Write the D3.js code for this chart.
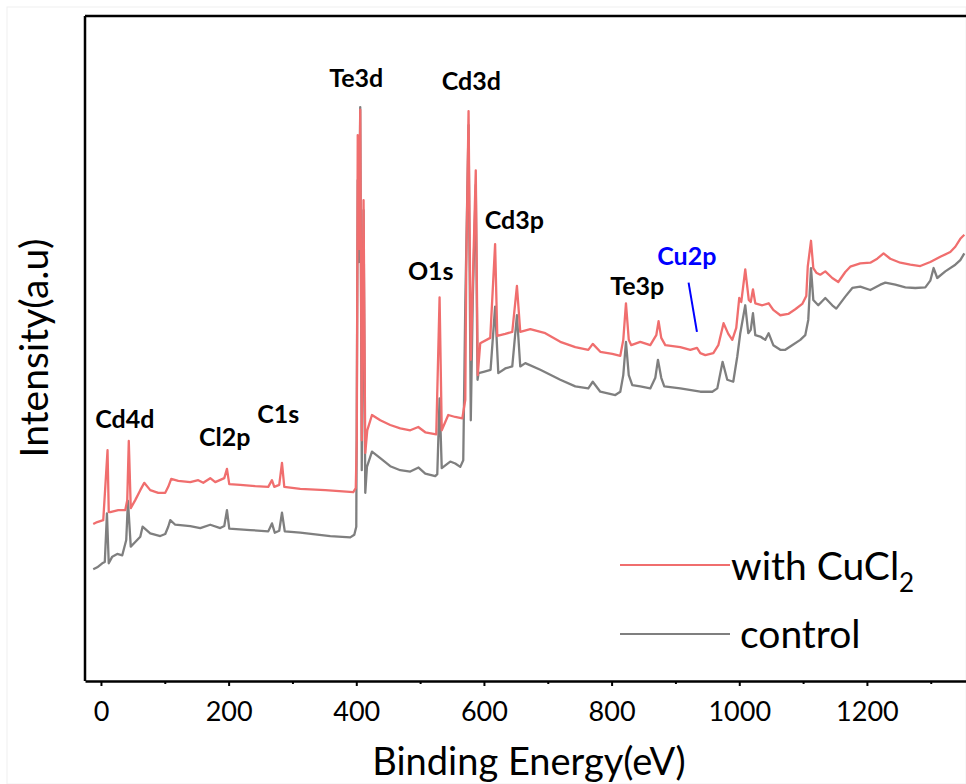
<!DOCTYPE html>
<html>
<head>
<meta charset="utf-8">
<script src="https://cdn.jsdelivr.net/npm/d3@7/dist/d3.min.js"></script>
<style>
  html, body { margin: 0; padding: 0; background: #fff; }
  svg { display: block; }
</style>
</head>
<body>
<svg id="chart" width="966" height="784"></svg>
<script>
// XPS survey spectra: binding energy (eV) and intensity (a.u.)
const withCuCl2BE = [-12.1,-5.8,3.6,10.3,12.2,14.6,27.1,38.1,41.2,43.6,46.7,53.7,61.6,67.8,77.2,89.8,100.7,105.4,110.1,121.1,139.9,152.4,160.3,171.2,179.1,193.2,197.4,201.0,218.2,241.7,262.1,267.9,271.5,279.3,283.6,287.2,312.2,351.4,395.3,399.2,400.8,402.3,404.2,406.2,408.6,411.4,414.1,417.2,424.6,437.6,453.2,468.9,484.6,497.1,508.1,525.3,530.5,533.9,544.1,555.1,566.1,570.8,572.3,575.9,579.4,587.2,590.3,594.2,609.9,617.5,620.9,633.4,644.4,651.7,656.9,672.6,696.1,719.6,743.1,763.5,770.5,782.3,801.1,813.6,818.3,822.5,826.9,830.8,844.9,860.6,870.0,873.6,877.8,884.1,907.6,923.3,933.8,939.0,946.8,959.4,967.2,975.4,982.8,989.1,995.3,1000.0,1003.2,1009.4,1014.9,1018.0,1021.5,1025.1,1036.1,1046.0,1053.3,1064.3,1076.8,1087.8,1098.7,1105.0,1107.3,1112.4,1116.0,1120.7,1126.9,1134.8,1145.7,1155.1,1166.1,1173.9,1189.6,1205.3,1216.2,1226.1,1236.6,1252.3,1268.0,1283.6,1299.3,1315.0,1330.6,1338.5,1346.3,1352.6];
const withCuCl2I = [23.6,23.9,24.2,34.7,25.4,25.4,25.7,25.7,27.2,36.1,26.0,27.2,28.7,29.8,28.7,28.3,28.3,29.2,30.4,30.1,29.9,30.2,29.8,30.5,29.9,30.5,31.9,29.6,29.5,29.3,29.2,30.2,29.2,29.5,32.8,29.2,28.9,28.7,28.4,29.0,36.2,82.1,65.0,85.9,36.2,72.3,34.3,37.7,40.0,39.2,38.5,38.0,37.7,38.2,37.4,37.1,57.7,37.7,40.0,39.7,39.5,42.3,62.3,85.7,48.3,76.8,46.0,50.8,51.6,65.7,51.9,52.2,52.5,59.4,52.5,52.9,52.3,51.0,50.2,49.8,50.7,49.5,49.2,48.9,51.3,56.8,51.3,50.5,51.0,50.5,52.0,54.1,51.6,50.5,50.2,49.8,50.1,49.3,49.0,49.3,50.5,53.8,52.2,51.3,53.1,57.6,57.0,61.9,57.3,57.0,58.9,56.8,56.5,56.8,55.8,55.0,55.2,55.9,56.7,57.9,62.3,66.2,62.1,61.4,61.1,61.6,60.6,60.0,61.5,62.3,62.8,62.9,63.5,64.3,63.5,62.9,62.6,62.4,63.0,63.8,64.5,65.3,66.5,67.1];

const controlBE = [-12.1,-5.8,2.0,6.0,9.4,12.2,17.7,25.5,33.4,39.6,42.3,46.7,53.7,61.6,65.2,77.2,92.9,100.7,105.4,108.6,116.4,139.9,155.6,171.2,186.9,193.2,197.4,201.0,233.9,262.1,267.9,272.3,279.3,283.6,288.0,312.2,359.2,390.6,396.9,400.0,402.3,404.2,406.2,408.6,411.4,414.1,416.7,424.6,437.6,453.2,468.9,484.6,497.6,508.1,523.7,526.9,530.5,533.9,547.2,555.1,562.9,567.6,570.8,575.9,579.4,582.5,587.2,590.0,591.6,599.4,610.4,617.5,622.5,633.4,644.4,651.7,656.9,664.8,688.3,719.6,743.1,763.5,770.5,782.3,805.8,813.6,818.3,822.5,826.9,832.4,844.9,860.6,868.5,872.6,877.8,882.5,907.6,939.0,957.8,965.6,973.9,981.2,990.6,996.9,1001.6,1009.4,1014.1,1018.0,1021.5,1025.1,1032.9,1040.8,1046.0,1053.3,1064.3,1072.1,1079.9,1095.6,1103.4,1108.1,1112.4,1116.0,1123.8,1134.8,1145.7,1152.0,1166.1,1177.1,1189.6,1205.3,1221.0,1228.8,1244.5,1260.2,1275.8,1291.5,1299.3,1304.5,1310.2,1322.8,1338.5,1346.3,1352.6];
const controlI = [16.8,17.1,17.7,17.9,25.2,17.7,18.7,19.1,18.9,21.2,27.1,20.2,20.9,21.7,23.2,22.2,21.8,22.1,23.2,24.2,23.5,23.3,23.0,23.5,23.0,23.3,25.7,22.9,22.7,22.5,23.7,22.3,22.6,25.3,22.5,22.3,21.8,21.6,22.0,23.2,75.3,63.0,86.3,31.7,70.8,28.3,32.2,34.5,33.5,32.3,31.7,31.5,32.1,31.2,30.8,31.1,42.5,32.0,33.0,32.7,32.2,33.2,56.8,83.6,39.2,57.3,74.6,45.3,46.3,46.5,46.8,56.3,46.3,47.0,47.3,55.0,47.3,47.8,46.8,45.3,44.3,44.0,45.0,43.5,43.0,43.5,46.0,51.0,46.0,44.5,44.3,44.0,45.6,48.3,45.6,44.3,44.0,43.5,43.5,44.0,48.0,45.3,45.0,48.8,52.3,56.5,52.3,52.8,55.3,52.0,51.8,51.3,52.3,50.5,49.8,49.8,50.3,51.3,52.0,54.3,62.1,57.3,56.5,57.6,56.5,56.0,57.8,59.1,59.3,58.8,59.6,59.9,59.6,59.2,59.1,59.2,60.2,62.1,60.6,61.6,62.6,63.3,64.3];

// Axis ticks
const majorTicks = [0, 200, 400, 600, 800, 1000, 1200];
const minorTicks = [100, 300, 500, 700, 900, 1100, 1300];

// Peak assignments: text, binding energy of label centre, intensity of label baseline
const peakLabels = ["Cd4d", "Cl2p", "C1s", "Te3d", "O1s", "Cd3d", "Cd3p", "Te3p", "Cu2p"];
const peakLabelBE = [37.3, 194.0, 277.8, 400.0, 516.7, 580.1, 647.5, 840.2, 917.8];
const peakLabelI = [38.0, 35.3, 38.8, 89.3, 60.3, 88.9, 68.0, 58.0, 62.6];
const peakLabelColor = ["#000", "#000", "#000", "#000", "#000", "#000", "#000", "#000", "#0000ff"];
// Pointer from the Cu2p label down to the trace
const cuPointerBE = [920.6, 933.7];
const cuPointerI = [59.9, 52.5];

const seriesNames = ["with CuCl", "control"];
const seriesColors = ["#f06e6e", "#7f7f7f"];

const svg = d3.select("#chart");
const W = 966, H = 784;
const plotLeft = 85, plotTop = 16, plotBottom = 681;
const font = "Lato, sans-serif";

const x = d3.scaleLinear().domain([-25, 1400]).range([plotLeft, plotLeft + 1425 * 0.6383]);
const y = d3.scaleLinear().domain([0, 100]).range([plotBottom, plotTop]);

// faint outer border
svg.append("rect").attr("x", 7).attr("y", 7).attr("width", W - 7).attr("height", H - 7)
  .attr("fill", "none").attr("stroke", "#f0f0f0").attr("stroke-width", 1);

svg.append("clipPath").attr("id", "plotclip")
  .append("rect").attr("x", plotLeft).attr("y", plotTop).attr("width", W - plotLeft).attr("height", plotBottom - plotTop);

const line = d3.line().x(d => x(d[0])).y(d => y(d[1]));
const controlData = controlBE.map((b, i) => [b, controlI[i]]);
const cuData = withCuCl2BE.map((b, i) => [b, withCuCl2I[i]]);

const traces = svg.append("g").attr("clip-path", "url(#plotclip)");
traces.append("path").datum(controlData).attr("d", line)
  .attr("fill", "none").attr("stroke", seriesColors[1]).attr("stroke-width", 2.3).attr("stroke-linejoin", "round");
traces.append("path").datum(cuData).attr("d", line)
  .attr("fill", "none").attr("stroke", seriesColors[0]).attr("stroke-width", 2.3).attr("stroke-linejoin", "round");

// frame: left and top edges
svg.append("line").attr("x1", plotLeft).attr("x2", plotLeft).attr("y1", plotTop).attr("y2", plotBottom)
  .attr("stroke", "#000").attr("stroke-width", 2.5);
svg.append("line").attr("x1", plotLeft).attr("x2", W).attr("y1", plotTop).attr("y2", plotTop)
  .attr("stroke", "#000").attr("stroke-width", 2.5);

// bottom axis
const xAxis = d3.axisBottom(x).tickValues(majorTicks).tickFormat(d3.format("d"))
  .tickSize(5).tickPadding(16).tickSizeOuter(0);
const gx = svg.append("g").attr("transform", `translate(0,${plotBottom})`).call(xAxis);
gx.select(".domain").attr("stroke", "#000").attr("stroke-width", 2.5);
gx.selectAll(".tick line").attr("stroke", "#000").attr("stroke-width", 2);
gx.selectAll(".tick text").attr("font-family", font).attr("font-size", 27).attr("fill", "#000");
const gxm = svg.append("g").attr("transform", `translate(0,${plotBottom})`)
  .call(d3.axisBottom(x).tickValues(minorTicks).tickSize(3).tickFormat("").tickSizeOuter(0));
gxm.select(".domain").remove();
gxm.selectAll(".tick line").attr("stroke", "#000").attr("stroke-width", 2);

// axis titles
svg.append("text").attr("x", 529).attr("y", 775).attr("text-anchor", "middle")
  .attr("font-family", font).attr("font-size", 38).attr("fill", "#000")
  .text("Binding Energy(eV)");
svg.append("text").attr("transform", "translate(48,348) rotate(-90)").attr("text-anchor", "middle")
  .attr("font-family", font).attr("font-size", 39).attr("fill", "#000")
  .text("Intensity(a.u)");

// peak labels
peakLabels.forEach((t, i) => {
  svg.append("text").attr("x", x(peakLabelBE[i])).attr("y", y(peakLabelI[i]))
    .attr("text-anchor", "middle").attr("font-family", font)
    .attr("font-weight", "bold").attr("font-size", 25).attr("fill", peakLabelColor[i]).text(t);
});
svg.append("line")
  .attr("x1", x(cuPointerBE[0])).attr("y1", y(cuPointerI[0]))
  .attr("x2", x(cuPointerBE[1])).attr("y2", y(cuPointerI[1]))
  .attr("stroke", "#0000ff").attr("stroke-width", 2);

// legend
const legend = svg.append("g");
const legendRows = [{ ly: 565, ty: 580, tx: 731 }, { ly: 634, ty: 648, tx: 740 }];
legendRows.forEach((r, i) => {
  legend.append("line").attr("x1", 620).attr("x2", 730).attr("y1", r.ly).attr("y2", r.ly)
    .attr("stroke", seriesColors[i]).attr("stroke-width", 2);
  const t = legend.append("text").attr("x", r.tx).attr("y", r.ty)
    .attr("font-family", font).attr("font-size", 39).attr("fill", "#000")
    .text(seriesNames[i]);
  if (i === 0) {
    t.append("tspan").attr("font-size", 26).attr("dy", 12).text("2");
  }
});
</script>
</body>
</html>
